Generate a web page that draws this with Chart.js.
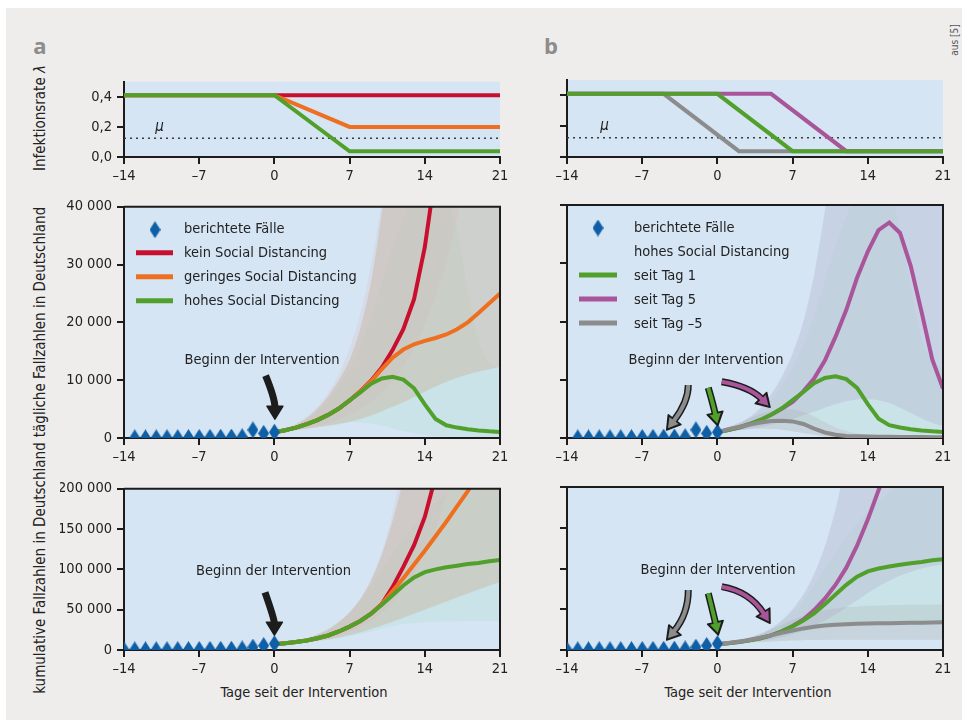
<!DOCTYPE html>
<html>
<head>
<meta charset="utf-8">
<script src="https://cdn.jsdelivr.net/npm/chart.js@4.4.0/dist/chart.umd.min.js"></script>
<style>
  body { margin: 0; width: 962px; height: 720px; position: relative; overflow: hidden; background: #fff;
         font-family: "DejaVu Sans Condensed", "Liberation Sans Narrow", sans-serif; color: #222; }
  #bg { position: absolute; left: 6px; top: 8px; width: 956px; height: 712px; background: #eeedeb; }
  canvas { position: absolute; }
  .txt { position: absolute; white-space: nowrap; transform: translate(-50%, -50%); font-size: 14.5px; }
  .rot { transform: translate(-50%, -50%) rotate(-90deg); font-size: 15px; }
  .plabel { font-weight: bold; font-size: 22px; color: #8c8c8c; font-family: "Open Sans", sans-serif; }
</style>
</head>
<body>
<div id="bg"></div>
<div class="txt plabel" style="left:40px;top:45px">a</div>
<div class="txt plabel" style="left:551px;top:45px">b</div>
<div class="txt rot" style="left:954px;top:40px;font-size:10px;color:#555">aus [5]</div>
<div class="txt rot" style="left:40px;top:118px">Infektionsrate <i>λ</i></div>
<div class="txt rot" style="left:40px;top:322px">tägliche Fallzahlen in Deutschland</div>
<div class="txt rot" style="left:40px;top:568px">kumulative Fallzahlen in Deutschland</div>
<div class="txt" style="left:304px;top:692px">Tage seit der Intervention</div>
<div class="txt" style="left:748px;top:692px">Tage seit der Intervention</div>

<canvas id="aTop" width="460" height="119" style="left:60px;top:68px"></canvas>
<canvas id="bTop" width="459" height="119" style="left:503px;top:68px"></canvas>
<canvas id="aMid" width="460" height="275" style="left:60px;top:193px"></canvas>
<canvas id="bMid" width="459" height="275" style="left:503px;top:193px"></canvas>
<canvas id="aBot" width="460" height="205" style="left:60px;top:475px"></canvas>
<canvas id="bBot" width="459" height="205" style="left:503px;top:475px"></canvas>

<script>
// ---- axes ----
const dayTicks = [-14, -7, 0, 7, 14, 21];
const dayTickLabels = ['–14', '–7', '0', '7', '14', '21'];
const rateTicks = [0, 0.2, 0.4];
const rateTickLabels = ['0,0', '0,2', '0,4'];
const dailyTicks = [0, 10000, 20000, 30000, 40000];
const dailyTickLabels = ['0', '10 000', '20 000', '30 000', '40 000'];
const cumTicks = [0, 50000, 100000, 150000, 200000];
const cumTickLabels = ['0', '50 000', '100 000', '150 000', '200 000'];

// ---- infection rate (knots) ----
const MU = 0.125;
const rateDaysStd = [-14, 0, 7, 21];
const rateNone = [0.41, 0.41, 0.41, 0.41];
const rateLow = [0.41, 0.41, 0.20, 0.20];
const rateHigh = [0.41, 0.41, 0.038, 0.038];
const rateDaysDay5 = [-14, 5, 12, 21];
const rateDay5 = [0.41, 0.41, 0.038, 0.038];
const rateDaysDayM5 = [-14, -5, 2, 21];
const rateDayM5 = [0.41, 0.41, 0.038, 0.038];

// ---- reported cases ----
const reportedDailyDays = [-13, -12, -11, -10, -9, -8, -7, -6, -5, -4, -3, -2, -1, 0];
const reportedDaily = [20, 20, 30, 40, 50, 70, 90, 110, 140, 170, 210, 1400, 800, 1000];
const reportedCumDays = [-14, -13, -12, -11, -10, -9, -8, -7, -6, -5, -4, -3, -2, -1, 0];
const reportedCum = [100, 150, 200, 250, 300, 400, 500, 600, 700, 800, 1000, 1300, 3500, 5500, 7800];

// ---- model days ----
const modelDays = [0, 1, 2, 3, 4, 5, 6, 7, 8, 9, 10, 11, 12, 13, 14, 15, 16, 17, 18, 19, 20, 21];

// daily, panel a
const dailyNone = [1000, 1350, 1800, 2400, 3100, 4000, 5100, 6500, 8100, 9900, 12200, 15200, 18800, 24000, 33000, 46000, 62000, 82000, 105000, 135000, 170000, 210000];
const dailyLow = [1000, 1350, 1800, 2400, 3100, 4000, 5100, 6500, 8100, 9800, 11900, 13900, 15300, 16200, 16800, 17300, 17900, 18800, 20000, 21600, 23300, 25000];
const dailyHigh = [1000, 1350, 1800, 2400, 3100, 4000, 5100, 6500, 7900, 9400, 10300, 10600, 10100, 8600, 5800, 3300, 2200, 1800, 1500, 1300, 1150, 1050];
// daily, panel b (seit Tag 1 = dailyHigh)
const dailyDay5 = [1000, 1350, 1800, 2400, 3100, 4000, 5000, 6200, 8000, 10200, 13300, 17400, 22000, 27500, 32000, 35700, 37000, 35200, 29500, 21700, 13500, 8500];
const dailyDayM5 = [1000, 1500, 1900, 2300, 2650, 2900, 2950, 2850, 2400, 1600, 950, 550, 350, 300, 250, 220, 200, 180, 170, 160, 150, 150];

// cumulative, panel a
const cumNone = [7000, 8300, 9800, 11800, 14500, 18000, 23000, 29000, 36000, 45000, 57000, 78000, 103000, 130000, 165000, 215000, 275000, 355000, 460000, 590000, 760000, 970000];
const cumLow = [7000, 8300, 9800, 11800, 14500, 18000, 23000, 29000, 36000, 45000, 57000, 73000, 89000, 106000, 123000, 141000, 159000, 178000, 197000, 218000, 241000, 265000];
const cumHigh = [7000, 8300, 9800, 11800, 14500, 18000, 23000, 29000, 36000, 45000, 56000, 68000, 80000, 90000, 96500, 100000, 102500, 104500, 106500, 108000, 110000, 111500];
// cumulative, panel b (seit Tag 1 = cumHigh)
const cumDay5 = [7000, 8300, 9800, 11800, 14500, 18000, 23000, 29500, 37500, 49000, 63000, 80000, 101000, 128000, 160000, 196000, 230000, 265000, 295000, 316000, 330000, 338000];
const cumDayM5 = [7000, 8500, 10300, 12500, 15000, 18000, 21000, 24000, 26500, 28500, 30000, 31000, 31700, 32100, 32400, 32700, 32900, 33100, 33300, 33500, 33700, 33900];

// ---- uncertainty bands ----
const bandNoneLo = [1000, 1150, 1400, 1700, 2100, 2600, 3200, 4000, 5000, 6200, 7800, 9800, 12300, 15500, 19500, 24500, 30500, 38000, 47000, 58000, 72000, 90000];
const bandNoneHi = [1000, 1600, 2500, 3700, 5400, 7800, 11000, 15500, 21500, 30000, 41000, 56000, 75000, 100000, 130000, 170000, 220000, 280000, 350000, 440000, 550000, 700000];
const bandLowLo = [1000, 1150, 1350, 1600, 1850, 2100, 2400, 2800, 3300, 3900, 4600, 5400, 6200, 7100, 8000, 8900, 9700, 10400, 11000, 11500, 11900, 12300];
const bandLowHi = [1000, 1550, 2300, 3400, 5000, 7200, 10000, 13500, 19000, 27000, 39000, 54000, 70000, 85000, 95000, 100000, 100000, 95000, 80000, 60000, 45000, 40000];
const bandHighLo = [1000, 1150, 1350, 1600, 1900, 2200, 2500, 2700, 2700, 2500, 2100, 1700, 1200, 800, 500, 300, 250, 200, 200, 200, 200, 200];
const bandHighHi = [1000, 1500, 2200, 3200, 4600, 6500, 9000, 12000, 16000, 21000, 27000, 33000, 38000, 42000, 44000, 44000, 42000, 36000, 26000, 17000, 13000, 12000];
const bandDay5Lo = [1000, 1150, 1350, 1600, 1900, 2300, 2800, 3300, 3900, 4500, 5200, 5800, 6300, 6600, 6700, 6500, 6000, 5200, 4300, 3400, 2600, 2000];
const bandDay5Hi = [1000, 1600, 2400, 3600, 5200, 7500, 10500, 14500, 20000, 28000, 39000, 52000, 66000, 78000, 86000, 90000, 90000, 86000, 78000, 68000, 58000, 50000];
const bandDayM5Lo = [1000, 1200, 1400, 1550, 1600, 1550, 1400, 1150, 850, 550, 320, 180, 120, 90, 70, 60, 50, 50, 40, 40, 40, 40];
const bandDayM5Hi = [1000, 1800, 2600, 3400, 4100, 4600, 4900, 4900, 4500, 3700, 2700, 1800, 1200, 800, 600, 450, 380, 330, 300, 280, 260, 250];

const bandCumNoneLo = [7000, 7800, 8900, 10300, 12200, 14700, 18000, 22500, 28500, 36000, 46000, 59000, 75000, 95000, 120000, 150000, 190000, 240000, 300000, 370000, 450000, 540000];
const bandCumNoneHi = [7000, 8800, 11300, 14800, 19800, 26500, 35500, 47500, 64000, 88000, 122000, 170000, 240000, 330000, 450000, 600000, 800000, 1000000, 1300000, 1600000, 2000000, 2500000];
const bandCumLowLo = [7000, 7700, 8600, 9800, 11300, 13200, 15500, 18500, 22000, 26000, 30500, 35000, 40000, 45000, 50000, 55000, 60000, 65000, 70000, 75000, 80000, 84000];
const bandCumLowHi = [7000, 8700, 11000, 14300, 19000, 25500, 34500, 46500, 63000, 86000, 118000, 160000, 210000, 260000, 310000, 360000, 410000, 460000, 510000, 560000, 610000, 660000];
const bandCumHighLo = [7000, 7600, 8400, 9400, 10700, 12300, 14300, 16800, 19800, 23000, 26500, 29500, 31800, 33400, 34400, 34900, 35200, 35400, 35500, 35600, 35700, 35800];
const bandCumHighHi = [7000, 8700, 11000, 14300, 19000, 25500, 34500, 46000, 61000, 80000, 100000, 120000, 138000, 155000, 170000, 183000, 194000, 203000, 210000, 216000, 221000, 225000];
const bandCumDay5Lo = [7000, 7700, 8600, 9800, 11300, 13300, 16000, 19500, 24000, 29500, 36000, 43500, 52000, 61000, 70000, 78000, 85000, 91000, 96000, 100000, 103000, 105000];
const bandCumDay5Hi = [7000, 8800, 11300, 14800, 19800, 26800, 36500, 50000, 68000, 93000, 127000, 173000, 233000, 300000, 380000, 460000, 540000, 610000, 670000, 720000, 760000, 790000];
const bandCumDayM5Lo = [7000, 7500, 8200, 9000, 9800, 10500, 11100, 11600, 12000, 12200, 12400, 12500, 12500, 12500, 12500, 12500, 12500, 12500, 12500, 12500, 12500, 12500];
const bandCumDayM5Hi = [7000, 9000, 11500, 15000, 19500, 25000, 31000, 37000, 42000, 46000, 49000, 51000, 52500, 53500, 54200, 54700, 55000, 55200, 55400, 55500, 55600, 55700];

// ---- colours ----
const C = {
  red: '#c8102e', orange: '#ee6f1f', green: '#52a02c', purple: '#a9559a', gray: '#8c8c8c',
  blue: '#0f5fa6', ink: '#1c1c1c', plot: '#d5e5f4'
};
const FONT = '"DejaVu Sans Condensed", "Liberation Sans Narrow", sans-serif';
const FS = 14.5;
Chart.defaults.font.family = FONT;
Chart.defaults.font.size = FS;
Chart.defaults.color = '#222';

function diamond(w, h, color) {
  const c = document.createElement('canvas');
  c.width = w; c.height = h;
  const g = c.getContext('2d');
  g.fillStyle = color;
  g.beginPath();
  g.moveTo(w / 2, 0); g.lineTo(w, h / 2); g.lineTo(w / 2, h); g.lineTo(0, h / 2);
  g.closePath(); g.fill();
  return c;
}
const DIAMOND = diamond(11, 17, C.blue);

const xy = (xs, ys) => xs.map((x, i) => ({ x, y: ys[i] }));

function lineDs(xs, ys, color, order) {
  return { data: xy(xs, ys), borderColor: color, borderWidth: 4, pointRadius: 0, fill: false, tension: 0, order };
}
function bandDs(hi, lo, color) {
  return [
    { data: xy(modelDays, hi), borderColor: 'rgba(0,0,0,0)', borderWidth: 0, pointRadius: 0, fill: '+1', backgroundColor: color, tension: 0.3, order: 20 },
    { data: xy(modelDays, lo), borderColor: 'rgba(0,0,0,0)', borderWidth: 0, pointRadius: 0, fill: false, tension: 0.3, order: 20 }
  ];
}
function pointsDs(xs, ys) {
  return { data: xy(xs, ys), showLine: false, pointStyle: DIAMOND, pointRadius: 8, clip: 0, order: 0 };
}
function muDs() {
  return { data: xy([-14, 21], [MU, MU]), borderColor: '#3a3a3a', borderWidth: 1.5, borderDash: [2, 4], pointRadius: 0, fill: false, order: 9 };
}

function scales(yMin, yMax, yTicks, yLabels) {
  const grid = { display: true, drawOnChartArea: false, drawTicks: true, tickLength: 7, color: C.ink, lineWidth: 2 };
  const border = { display: true, color: C.ink, width: 2 };
  return {
    x: {
      type: 'linear', min: -14, max: 21,
      afterBuildTicks: s => { s.ticks = dayTicks.map(v => ({ value: v })); },
      afterFit: s => { s.height = 30; },
      ticks: { callback: (v, i) => dayTickLabels[i], padding: 4, maxRotation: 0, autoSkip: false },
      grid, border
    },
    y: {
      type: 'linear', min: yMin, max: yMax,
      afterBuildTicks: s => { s.ticks = yTicks.map(v => ({ value: v })); },
      afterFit: s => { s.width = 64; },
      ticks: { display: !!yLabels, callback: (v, i) => (yLabels ? yLabels[i] : ''), padding: 5, autoSkip: false },
      grid, border
    }
  };
}

// extra drawing per panel: frame, legend, arrows, notes
const extras = {
  aTop: { mu: [-10.7, 0.2] },
  bTop: { mu: [-10.5, 0.2] },
  aMid: {
    frame: true,
    legend: { lineX: [12, 49], markX: 31, textX: 60, y0: 23, dy: 24, items: [
      { kind: 'diamond', label: 'berichtete Fälle' },
      { kind: 'line', color: C.red, label: 'kein Social Distancing' },
      { kind: 'line', color: C.orange, label: 'geringes Social Distancing' },
      { kind: 'line', color: C.green, label: 'hohes Social Distancing' }
    ] },
    note: [-1.15, 13400],
    arrows: [{ from: [-0.82, 10800], ctrl: [0.05, 6870], to: [0.05, 3260], fill: C.ink }]
  },
  bMid: {
    frame: true,
    legend: { lineX: [12, 50], markX: 31, textX: 67, y0: 23, dy: 24, items: [
      { kind: 'diamond', label: 'berichtete Fälle' },
      { kind: 'text', label: 'hohes Social Distancing' },
      { kind: 'line', color: C.green, label: 'seit Tag 1' },
      { kind: 'line', color: C.purple, label: 'seit Tag 5' },
      { kind: 'line', color: C.gray, label: 'seit Tag –5' }
    ] },
    note: [-1.06, 13400],
    arrows: [
      { from: [-2.71, 9100], ctrl: [-2.71, 6180], to: [-4.72, 1370], fill: C.gray },
      { from: [-0.85, 8630], ctrl: [-0.38, 5670], to: [0.03, 2110], fill: C.green },
      { from: [0.40, 9660], ctrl: [3.0, 8840], to: [4.90, 5270], fill: C.purple }
    ]
  },
  aBot: {
    frame: true,
    note: [-0.08, 98200],
    arrows: [{ from: [-0.875, 71500], ctrl: [0.0, 38400], to: [0.0, 18400], fill: C.ink }]
  },
  bBot: {
    frame: true,
    note: [0.06, 98200],
    arrows: [
      { from: [-2.71, 73600], ctrl: [-2.71, 44200], to: [-4.72, 12270], fill: C.gray },
      { from: [-0.85, 69600], ctrl: [-0.41, 46600], to: [0.08, 18400], fill: C.green },
      { from: [0.40, 77700], ctrl: [3.0, 71800], to: [4.90, 32800], fill: C.purple }
    ]
  }
};

function drawArrow(ctx, p0, p1, p2, fill) {
  const ang = Math.atan2(p2.y - p1.y, p2.x - p1.x);
  const len = 13, half = 8;
  const cx = Math.cos(ang), sy = Math.sin(ang);
  const base = { x: p2.x - len * cx, y: p2.y - len * sy };
  const head = () => {
    ctx.beginPath();
    ctx.moveTo(p2.x, p2.y);
    ctx.lineTo(base.x - half * sy, base.y + half * cx);
    ctx.lineTo(base.x + half * sy, base.y - half * cx);
    ctx.closePath();
  };
  const shaft = () => {
    ctx.beginPath();
    ctx.moveTo(p0.x, p0.y);
    ctx.quadraticCurveTo(p1.x, p1.y, base.x + 1.5 * cx, base.y + 1.5 * sy);
  };
  ctx.save();
  ctx.lineCap = 'butt';
  ctx.lineJoin = 'round';
  shaft(); ctx.strokeStyle = C.ink; ctx.lineWidth = 7; ctx.stroke();
  head(); ctx.fillStyle = C.ink; ctx.fill(); ctx.lineWidth = 1.5; ctx.strokeStyle = C.ink; ctx.stroke();
  if (fill !== C.ink) {
    shaft(); ctx.strokeStyle = fill; ctx.lineWidth = 4; ctx.stroke();
    ctx.beginPath();
    const s = 0.72;
    const bx = p2.x - len * cx * 0.92, by = p2.y - len * sy * 0.92;
    ctx.moveTo(p2.x - 2.2 * cx, p2.y - 2.2 * sy);
    ctx.lineTo(bx - half * s * sy, by + half * s * cx);
    ctx.lineTo(bx + half * s * sy, by - half * s * cx);
    ctx.closePath(); ctx.fillStyle = fill; ctx.fill();
  }
  ctx.restore();
}

const panelPlugin = {
  id: 'panel',
  beforeDraw(chart) {
    const { ctx, chartArea: a } = chart;
    ctx.save();
    ctx.fillStyle = C.plot;
    ctx.fillRect(a.left, a.top, a.right - a.left, a.bottom - a.top);
    ctx.restore();
  },
  afterDatasetsDraw(chart) {
    const ex = extras[chart.canvas.id];
    const { ctx, scales: { x, y } } = chart;
    const P = p => ({ x: x.getPixelForValue(p[0]), y: y.getPixelForValue(p[1]) });
    (ex.arrows || []).forEach(ar => drawArrow(ctx, P(ar.from), P(ar.ctrl), P(ar.to), ar.fill));
  },
  afterDraw(chart) {
    const ex = extras[chart.canvas.id];
    const { ctx, chartArea: a, scales: { x, y } } = chart;
    ctx.save();
    if (ex.frame) {
      ctx.strokeStyle = C.ink; ctx.lineWidth = 2;
      ctx.beginPath();
      ctx.moveTo(a.left, a.top); ctx.lineTo(a.right, a.top); ctx.lineTo(a.right, a.bottom);
      ctx.stroke();
    }
    ctx.fillStyle = '#222';
    ctx.textBaseline = 'middle';
    if (ex.mu) {
      ctx.font = 'italic 15px ' + FONT;
      ctx.textAlign = 'center';
      ctx.fillText('μ', x.getPixelForValue(ex.mu[0]), y.getPixelForValue(ex.mu[1]));
    }
    if (ex.note) {
      ctx.font = FS + 'px ' + FONT;
      ctx.textAlign = 'center';
      ctx.fillText('Beginn der Intervention', x.getPixelForValue(ex.note[0]), y.getPixelForValue(ex.note[1]));
    }
    if (ex.legend) {
      const L = ex.legend;
      ctx.font = FS + 'px ' + FONT;
      ctx.textAlign = 'left';
      L.items.forEach((it, i) => {
        const ry = a.top + L.y0 + i * L.dy;
        if (it.kind === 'diamond') ctx.drawImage(DIAMOND, a.left + L.markX - DIAMOND.width / 2, ry - DIAMOND.height / 2);
        if (it.kind === 'line') {
          ctx.strokeStyle = it.color; ctx.lineWidth = 5;
          ctx.beginPath(); ctx.moveTo(a.left + L.lineX[0], ry - 1); ctx.lineTo(a.left + L.lineX[1], ry - 1); ctx.stroke();
        }
        ctx.fillStyle = '#222';
        ctx.fillText(it.label, a.left + L.textX, ry);
      });
    }
    ctx.restore();
  }
};

function make(id, datasets, sc, padRight) {
  new Chart(document.getElementById(id), {
    type: 'line',
    data: { datasets },
    options: {
      responsive: false, animation: false,
      layout: { padding: { top: 12, right: padRight, bottom: 0, left: 0 } },
      plugins: { legend: { display: false }, tooltip: { enabled: false } },
      scales: sc
    },
    plugins: [panelPlugin]
  });
}

const BAND_RED = 'rgba(215,180,180,0.20)';
const BAND_ORANGE = 'rgba(200,188,165,0.50)';
const BAND_GREEN = 'rgba(180,222,210,0.30)';
const BAND_PURPLE = 'rgba(175,170,200,0.32)';
const BAND_GRAY = 'rgba(170,170,170,0.30)';

// panel a, infection rate
make('aTop', [
  lineDs(rateDaysStd, rateHigh, C.green, 1),
  lineDs(rateDaysStd, rateLow, C.orange, 2),
  lineDs(rateDaysStd, rateNone, C.red, 3),
  muDs()
], scales(0, 0.5, rateTicks, rateTickLabels), 20);

// panel b, infection rate
make('bTop', [
  lineDs(rateDaysStd, rateHigh, C.green, 1),
  lineDs(rateDaysDay5, rateDay5, C.purple, 2),
  lineDs(rateDaysDayM5, rateDayM5, C.gray, 3),
  muDs()
], scales(0, 0.5, rateTicks, null), 19);

// panel a, daily cases
make('aMid', [
  pointsDs(reportedDailyDays, reportedDaily),
  lineDs(modelDays, dailyHigh, C.green, 1),
  lineDs(modelDays, dailyLow, C.orange, 2),
  lineDs(modelDays, dailyNone, C.red, 3),
  ...bandDs(bandNoneHi, bandNoneLo, BAND_RED),
  ...bandDs(bandLowHi, bandLowLo, BAND_ORANGE),
  ...bandDs(bandHighHi, bandHighLo, BAND_GREEN)
], scales(0, 40000, dailyTicks, dailyTickLabels), 20);

// panel b, daily cases
make('bMid', [
  pointsDs(reportedDailyDays, reportedDaily),
  lineDs(modelDays, dailyDayM5, C.gray, 1),
  lineDs(modelDays, dailyHigh, C.green, 2),
  lineDs(modelDays, dailyDay5, C.purple, 3),
  ...bandDs(bandDay5Hi, bandDay5Lo, BAND_PURPLE),
  ...bandDs(bandHighHi, bandHighLo, BAND_GREEN),
  ...bandDs(bandDayM5Hi, bandDayM5Lo, BAND_GRAY)
], scales(0, 40000, dailyTicks, null), 19);

// panel a, cumulative cases
make('aBot', [
  pointsDs(reportedCumDays, reportedCum),
  lineDs(modelDays, cumHigh, C.green, 1),
  lineDs(modelDays, cumLow, C.orange, 2),
  lineDs(modelDays, cumNone, C.red, 3),
  ...bandDs(bandCumNoneHi, bandCumNoneLo, BAND_RED),
  ...bandDs(bandCumLowHi, bandCumLowLo, BAND_ORANGE),
  ...bandDs(bandCumHighHi, bandCumHighLo, BAND_GREEN)
], scales(0, 200000, cumTicks, cumTickLabels), 20);

// panel b, cumulative cases
make('bBot', [
  pointsDs(reportedCumDays, reportedCum),
  lineDs(modelDays, cumDayM5, C.gray, 1),
  lineDs(modelDays, cumHigh, C.green, 2),
  lineDs(modelDays, cumDay5, C.purple, 3),
  ...bandDs(bandCumDay5Hi, bandCumDay5Lo, BAND_PURPLE),
  ...bandDs(bandCumHighHi, bandCumHighLo, BAND_GREEN),
  ...bandDs(bandCumDayM5Hi, bandCumDayM5Lo, BAND_GRAY)
], scales(0, 200000, cumTicks, null), 19);
</script>
</body>
</html>
